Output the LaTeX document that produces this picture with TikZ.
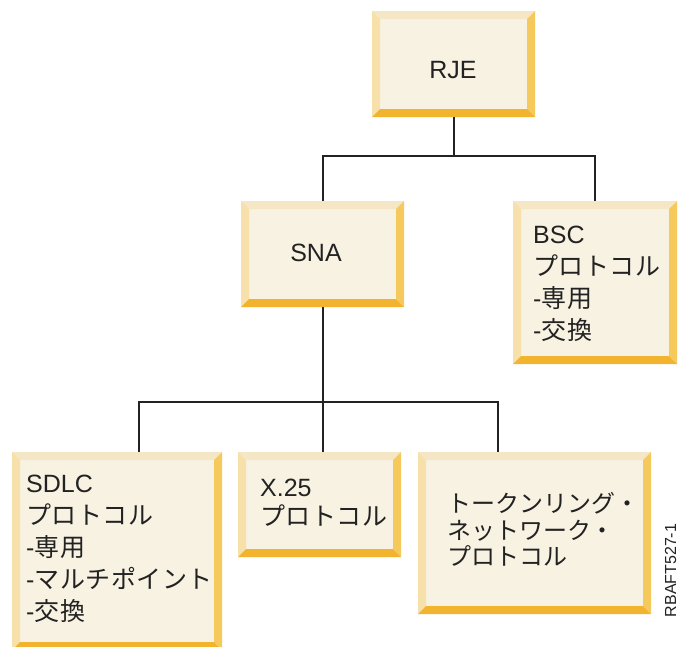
\documentclass[tikz,border=0pt]{standalone}
\usepackage{fontspec}
\setmainfont{Liberation Sans}
\newfontfamily\jp{Noto Sans CJK JP}[LetterSpace=2]
\newfontfamily\jpt{Noto Sans CJK JP}
\definecolor{face}{HTML}{F8F2E2}
\definecolor{btop}{HTML}{F5E7C6}
\definecolor{bleft}{HTML}{F7E0A9}
\definecolor{bright}{HTML}{F5C95C}
\definecolor{bbot}{HTML}{F2B42E}
\definecolor{ink}{HTML}{222222}
\tikzset{
  bevelbox/.style={rectangle, inner sep=0pt, fill=face, draw=none,
    path picture={
      \fill[btop] (path picture bounding box.north west) -- (path picture bounding box.north east)
        -- ([shift={(-8pt,-8pt)}]path picture bounding box.north east)
        -- ([shift={(8pt,-8pt)}]path picture bounding box.north west) -- cycle;
      \fill[bleft] (path picture bounding box.north west) -- (path picture bounding box.south west)
        -- ([shift={(8pt,8pt)}]path picture bounding box.south west)
        -- ([shift={(8pt,-8pt)}]path picture bounding box.north west) -- cycle;
      \fill[bright] (path picture bounding box.north east) -- (path picture bounding box.south east)
        -- ([shift={(-8pt,8pt)}]path picture bounding box.south east)
        -- ([shift={(-8pt,-8pt)}]path picture bounding box.north east) -- cycle;
      \fill[bbot] (path picture bounding box.south west) -- (path picture bounding box.south east)
        -- ([shift={(-8pt,8pt)}]path picture bounding box.south east)
        -- ([shift={(8pt,8pt)}]path picture bounding box.south west) -- cycle;
    }},
  boxtext/.style={inner sep=0pt, anchor=west, align=left, text=ink, font=\fontsize{25}{32}\selectfont},
  conn/.style={draw=ink, line width=2pt},
}
\begin{document}
\begin{tikzpicture}[x=1pt,y=-1pt]
\clip (0,0) rectangle (678,646);
\fill[white] (0,0) rectangle (678,646);
% boxes
\node[bevelbox, minimum width=163pt, minimum height=106pt] (rje) at (453.5,64) {};
\node[bevelbox, minimum width=163pt, minimum height=106pt] (sna) at (322.5,254) {};
\node[bevelbox, minimum width=164pt, minimum height=163pt] (bsc) at (595,282.5) {};
\node[bevelbox, minimum width=210pt, minimum height=198pt] (sdlc) at (117,551) {};
\node[bevelbox, minimum width=163pt, minimum height=105pt] (x25) at (319.5,504.5) {};
\node[bevelbox, minimum width=233pt, minimum height=162pt] (tok) at (534.5,533) {};
% texts
\node[text=ink, inner sep=0pt, font=\fontsize{25}{30}\selectfont] (rjet) at (453,70) {RJE};
\node[text=ink, inner sep=0pt, font=\fontsize{25}{30}\selectfont] (snat) at (316,253) {SNA};
\node[boxtext] (bsct) at (533,284) {BSC\\{\jp プロトコル}\\-{\jp 専用}\\-{\jp 交換}};
\node[boxtext] (sdlct) at (26,548.5) {SDLC\\{\jp プロトコル}\\-{\jp 専用}\\-{\jp マルチポイント}\\-{\jp 交換}};
\node[boxtext, font=\fontsize{25}{29}\selectfont] (x25t) at (260,503) {X.25\\{\jp プロトコル}};
\node[boxtext, font=\fontsize{24}{26.5}\selectfont] (tokt) at (447,529.5) {{\jpt トークンリング・}\\{\jpt ネットワーク・}\\{\jpt プロトコル}};
\node[text=ink, inner sep=0pt, rotate=90, font=\fontsize{16}{18}\selectfont] (fig) at (670.5,570.5) {RBAFT527-1};
% connectors
\coordinate (j1) at (rje.south |- 0,156);
\coordinate (j2) at (sna.south |- 0,402);
\path (sdlc.north) ++(22,0) coordinate (sdlcin);
\path (tok.north) ++(-36.5,0) coordinate (tokin);
\draw[conn] (rje.south) -- (j1);
\draw[conn] (j1) -| (sna.north);
\draw[conn] (j1) -| (bsc.north);
\draw[conn] (sna.south) -- (j2);
\draw[conn] (j2) -| (sdlcin);
\draw[conn] (j2) -- (j2 |- x25.north);
\draw[conn] (j2) -| (tokin);
\end{tikzpicture}
\end{document}
